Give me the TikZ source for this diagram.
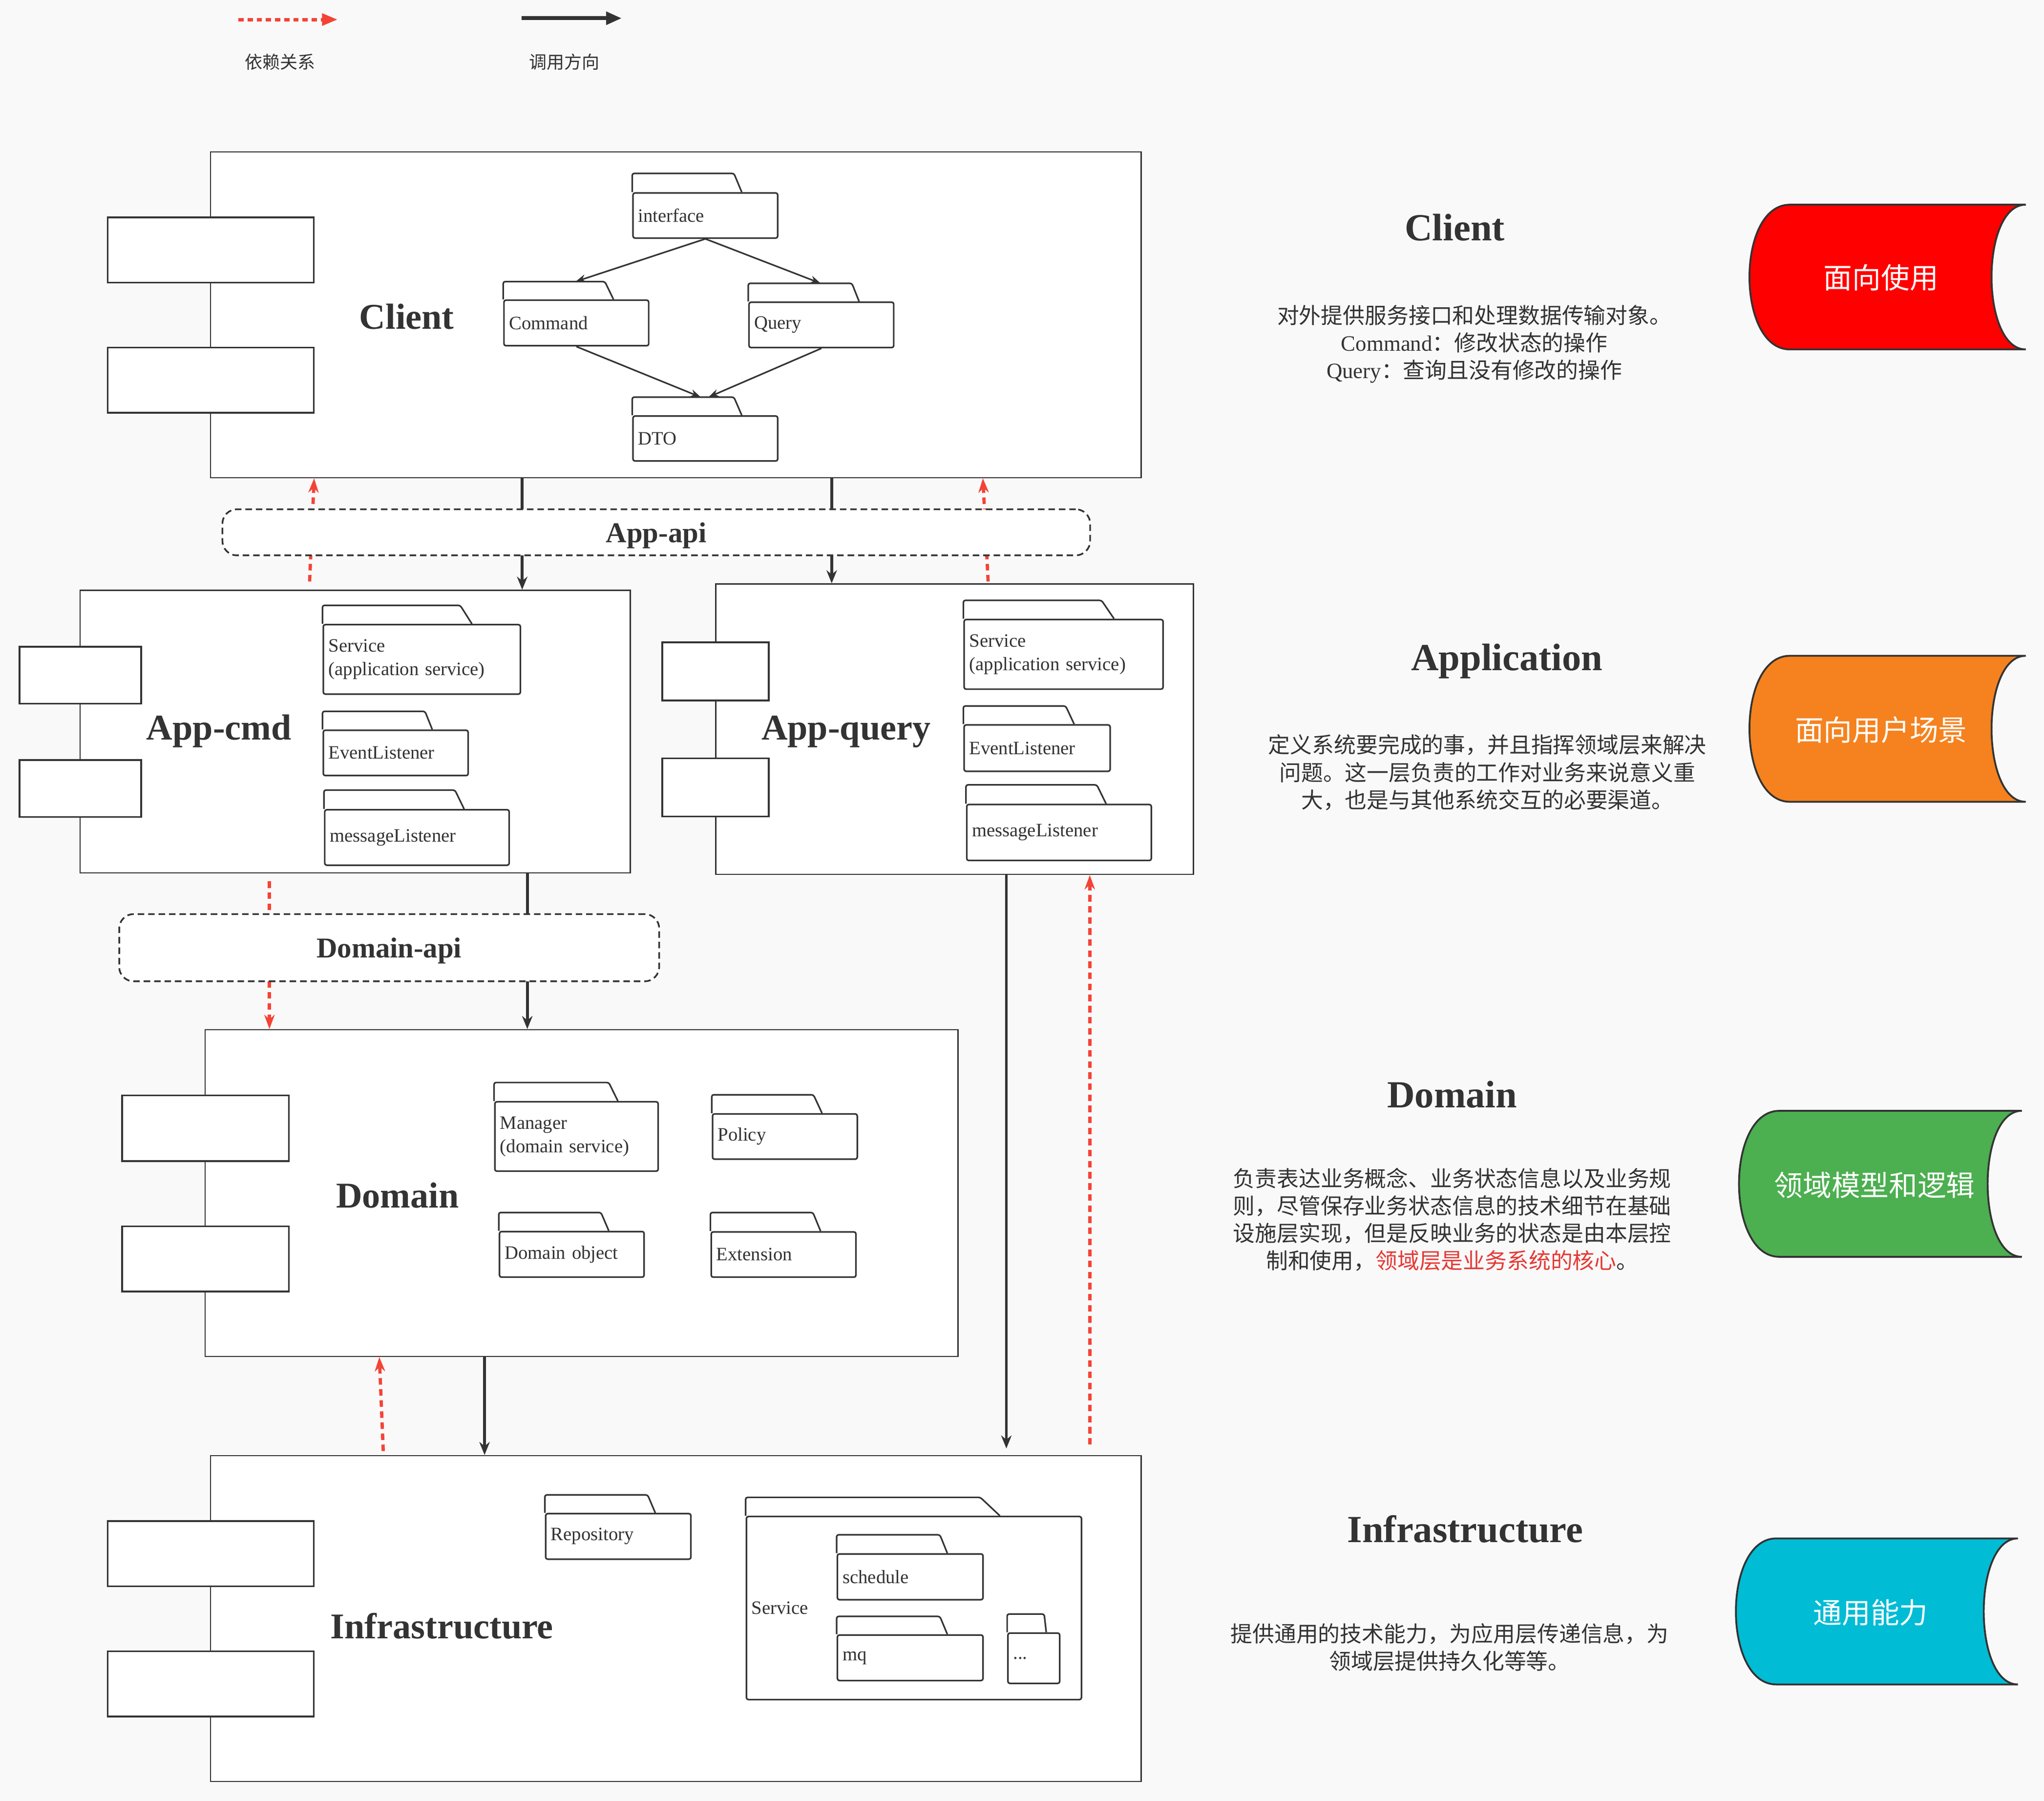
\documentclass[tikz,border=0pt]{standalone}
\usepackage{fontspec}
\setmainfont{Liberation Serif}
\newfontfamily\cjkfont{Noto Sans CJK SC}
\usetikzlibrary{arrows.meta}
\definecolor{bg}{HTML}{F9F9F9}
\definecolor{lc}{HTML}{333333}
\definecolor{tc}{HTML}{333333}
\definecolor{rc}{HTML}{F44336}
\definecolor{cred}{HTML}{FF0000}
\definecolor{corange}{HTML}{F5821F}
\definecolor{cgreen}{HTML}{4CAF50}
\definecolor{ccyan}{HTML}{00BCD4}
\definecolor{hl}{HTML}{E53935}
\newcommand\zh[1]{{\cjkfont #1}}
\newcommand\fsmall{\fontsize{14.5}{18}\selectfont}
% folder: name, x1, ytab, ybody, x2, ybot, tabright, slant, text
\newcommand{\fold}[9]{%
  \pgfmathsetmacro\flW{#5-#2-8}\pgfmathsetmacro\flH{#6-#4}\pgfmathsetmacro\flA{#5-#2}%
  \draw[fline, fill=white, rounded corners=1.5pt] (#2,#4) -- (#2,#3) -- (#7,#3) -- (#8,#4);
  \node[fbody, text width=\flW pt, minimum width=\flA pt, minimum height=\flH pt, anchor=north west] (#1) at (#2,#4) {#9};
  \coordinate (#1-top) at ({(#2+#5)/2},#3);
}
% stub rectangle: name, x1, y1, x2, y2
\newcommand{\stubrect}[5]{%
  \pgfmathsetmacro\stW{#4-#2}\pgfmathsetmacro\stH{#5-#3}%
  \node[stubbox, minimum width=\stW pt, minimum height=\stH pt, anchor=north west] (#1) at (#2,#3) {};
}
% big box: name, x1, y1, x2, y2
\newcommand{\bigbox}[5]{%
  \pgfmathsetmacro\bbW{#4-#2}\pgfmathsetmacro\bbH{#5-#3}%
  \node[box, minimum width=\bbW pt, minimum height=\bbH pt, anchor=north west] (#1) at (#2,#3) {};
}
% data storage: name, xl, yt, xr, yb, colour, tx, ty, text
\newcommand{\cyl}[9]{%
  \draw[cylline, fill=#6] (#2+31,#3) -- (#4,#3) .. controls (#4-35,#3) and (#4-35,#5) .. (#4,#5) -- (#2+31,#5) .. controls (#2-10.3,#5) and (#2-10.3,#3) .. cycle;
  \node[cyltext] (#1) at (#7,#8) {#9};
}
\begin{document}
\begin{tikzpicture}[x=1pt,y=-1pt,
  box/.style={draw=lc, line width=0.9pt, fill=white, inner sep=0pt},
  stubbox/.style={draw=lc, line width=1.3pt, fill=white, inner sep=0pt},
  fline/.style={draw=lc, line width=1.2pt},
  fbody/.style={draw=lc, line width=1.2pt, fill=white, rounded corners=1.5pt, inner xsep=4pt, inner ysep=0pt, align=left, font=\fsmall, text=tc},
  ltitle/.style={font=\bfseries\fontsize{27.8}{32}\selectfont, text=tc, inner sep=0pt, anchor=base},
  rtitle/.style={font=\bfseries\fontsize{29.4}{34}\selectfont, text=tc, inner sep=0pt, anchor=base},
  apibox/.style={draw=lc, dash pattern=on 5pt off 3pt, line width=1.3pt, rounded corners=11pt, fill=white, inner sep=0pt, text depth=0pt, font=\bfseries\fontsize{22}{26}\selectfont, text=tc},
  call/.style={draw=lc, line width=2.2pt, -{Stealth[length=10pt,width=8pt]}},
  dep/.style={draw=rc, line width=2.5pt, dash pattern=on 5pt off 3.5pt, -{Stealth[length=11pt,width=8pt]}},
  inarrow/.style={draw=lc, line width=1.2pt, -{Stealth[length=8pt,width=6pt]}},
  legdep/.style={draw=rc, line width=2.6pt, dash pattern=on 4pt off 3pt, -{Triangle[length=12pt,width=9pt]}},
  legcall/.style={draw=lc, line width=3pt, -{Triangle[length=12pt,width=9.5pt]}},
  leglbl/.style={font=\cjkfont\fontsize{13.5}{16}\selectfont, text=tc, inner sep=0pt},
  rpara/.style={align=center, font=\rmfamily\fontsize{16.8}{21}\selectfont, text=tc, inner sep=0pt},
  cylline/.style={draw=lc, line width=1.4pt},
  cyltext/.style={font=\cjkfont\fontsize{22}{26}\selectfont, text=white, inner sep=0pt}
]
\useasboundingbox (0,0) rectangle (1568,1381.4);
\fill[bg] (0,0) rectangle (1568,1381.4);

% ---------- legend ----------
\coordinate (lgA1) at (183,15);
\coordinate (lgA2) at (259,15);
\draw[legdep] (lgA1) -- (lgA2);
\coordinate (lgB1) at (400,14);
\coordinate (lgB2) at (477,14);
\draw[legcall] (lgB1) -- (lgB2);
\node[leglbl] (lgdep) at (215,47.5) {依赖关系};
\node[leglbl] (lgcall) at (433,47.5) {调用方向};

% ---------- Client ----------
\bigbox{client}{161}{116}{875}{366}
\stubrect{client-s1}{82}{166}{240}{216}
\stubrect{client-s2}{82}{266}{240}{316}
\node[ltitle] (client-lbl) at (312,252.3) {Client};
\fold{iface}{485}{133}{147.4}{596}{182}{563}{569}{interface}
\fold{cmd}{386}{216}{229.6}{497}{264.6}{464}{470.6}{Command}
\fold{qry}{574}{217.3}{231.2}{685}{266}{653.5}{659}{Query}
\fold{dto}{485}{304.6}{318.5}{596}{353}{563}{569}{DTO}
\draw[inarrow] (iface.south) -- (cmd-top);
\draw[inarrow] (iface.south) -- (qry-top);
\draw[inarrow] (cmd.south) -- ([xshift=-3pt]dto-top);
\draw[inarrow] (qry.south) -- ([xshift=3pt]dto-top);

% ---------- App-cmd ----------
\bigbox{appcmd}{61}{452.3}{483}{669}
\stubrect{appcmd-s1}{14.3}{495.4}{107.6}{539}
\stubrect{appcmd-s2}{14.3}{582.4}{107.6}{626}
\node[ltitle] (appcmd-lbl) at (168,567.6) {App-cmd};
\fold{csvc}{247.4}{464.3}{478.5}{398.6}{531.8}{353}{362}{Service\\(application service)}
\fold{cevt}{247.4}{545.6}{559.5}{358.5}{594.3}{326}{331.6}{EventListener}
\fold{cmsg}{248.5}{606}{620.5}{390}{663}{349}{356}{messageListener}

% ---------- App-query ----------
\bigbox{appquery}{548.6}{447.4}{915}{670.3}
\stubrect{appquery-s1}{507.4}{492}{589}{536.6}
\stubrect{appquery-s2}{507.4}{581}{589}{625.7}
\node[ltitle] (appquery-lbl) at (649,567.6) {App-query};
\fold{qsvc}{739}{460.5}{474.6}{891.6}{528}{845}{854.6}{Service\\(application service)}
\fold{qevt}{739}{541.5}{555.4}{851}{591}{817.5}{824}{EventListener}
\fold{qmsg}{741}{602}{616.5}{882.6}{659.4}{841.4}{848.5}{messageListener}

% ---------- Domain ----------
\bigbox{domain}{157}{789.3}{734.4}{1040}
\stubrect{domain-s1}{93}{839.5}{221}{890}
\stubrect{domain-s2}{93}{940}{221}{990}
\node[ltitle] (domain-lbl) at (305,926.4) {Domain};
\fold{mgr}{379}{830.3}{844.5}{504.3}{897.7}{467}{474}{Manager\\(domain service)}
\fold{pol}{546}{839.7}{853.8}{657}{888.5}{624}{630.6}{Policy}
\fold{dobj}{382.6}{930}{944}{493.5}{979}{461}{467}{Domain object}
\fold{ext}{545}{930}{944.3}{656}{979}{623.6}{629.5}{Extension}

% ---------- Infrastructure ----------
\bigbox{infra}{161}{1116}{875}{1366}
\stubrect{infra-s1}{82}{1166}{240}{1216}
\stubrect{infra-s2}{82}{1266}{240}{1316}
\node[ltitle] (infra-lbl) at (339,1257) {Infrastructure};
\fold{repo}{418}{1146.6}{1160.4}{529.4}{1195.3}{496.8}{502.7}{Repository}
\fold{isvc}{572}{1148.5}{1162.6}{829}{1303}{752}{767}{Service}
\fold{sched}{641.8}{1177.2}{1191.3}{753.5}{1226.4}{721}{726.7}{schedule}
\fold{mq}{641.8}{1239.8}{1253.5}{753.5}{1288.4}{721}{726.7}{mq}
\fold{etc}{772.6}{1238}{1252}{812.3}{1290.6}{801}{802.6}{...}

% ---------- connectors between layers ----------
\draw[call] (400.6,0 |- client.south) -- (400.6,0 |- appcmd.north);
\draw[call] (638,0 |- client.south) -- (638,0 |- appquery.north);
\coordinate (dA) at (237.5,446);
\draw[dep] (dA) -- (241,0 |- client.south);
\coordinate (dB) at (758,446);
\draw[dep] (dB) -- (754,0 |- client.south);
\draw[call] (404.5,0 |- appcmd.south) -- (404.5,0 |- domain.north);
\coordinate (dC) at (206.7,676);
\draw[dep] (dC) -- (206.7,0 |- domain.north);
\draw[call, shorten >=5pt] (772,0 |- appquery.south) -- (772,0 |- infra.north);
\coordinate (dD) at (836,1108);
\draw[dep] (dD) -- (836,0 |- appquery.south);
\draw[call] (371.7,0 |- domain.south) -- (371.7,0 |- infra.north);
\coordinate (dE) at (294,1113);
\draw[dep] (dE) -- (291,0 |- domain.south);

% ---------- api boxes ----------
\node[apibox, minimum width=665.6pt, minimum height=35.3pt, anchor=north west] (appapi) at (170,390) {App-api};
\node[apibox, minimum width=414.2pt, minimum height=51.5pt, anchor=north west] (domainapi) at (90.8,700.5) {Domain-api};

% ---------- right column ----------
\node[rtitle] (r-client) at (1116,184.6) {Client};
\node[rpara] (r-client-p) at (1131,264) {\zh{对外提供服务接口和处理数据传输对象。}\\Command\zh{：修改状态的操作}\\Query\zh{：查询且没有修改的操作}};
\node[rtitle] (r-app) at (1156,514.3) {Application};
\node[rpara] (r-app-p) at (1141,592.5) {\zh{定义系统要完成的事，并且指挥领域层来解决}\\\zh{问题。这一层负责的工作对业务来说意义重}\\\zh{大，也是与其他系统交互的必要渠道。}};
\node[rtitle] (r-dom) at (1114,849.5) {Domain};
\node[rpara] (r-dom-p) at (1114,935.5) {\zh{负责表达业务概念、业务状态信息以及业务规}\\\zh{则，尽管保存业务状态信息的技术细节在基础}\\\zh{设施层实现，但是反映业务的状态是由本层控}\\\zh{制和使用，{\color{hl}领域层是业务系统的核心}。}};
\node[rtitle] (r-inf) at (1124,1183) {Infrastructure};
\node[rpara] (r-inf-p) at (1112,1263.5) {\zh{提供通用的技术能力，为应用层传递信息，为}\\\zh{领域层提供持久化等等。}};

% ---------- data storage shapes ----------
\cyl{cy1}{1342}{157}{1554}{268}{cred}{1443}{213}{面向使用}
\cyl{cy2}{1342}{503}{1554}{615}{corange}{1443}{560}{面向用户场景}
\cyl{cy3}{1334}{852}{1551}{964}{cgreen}{1438}{909}{领域模型和逻辑}
\cyl{cy4}{1331.6}{1180}{1548}{1292}{ccyan}{1435}{1237}{通用能力}
\end{tikzpicture}
\end{document}
